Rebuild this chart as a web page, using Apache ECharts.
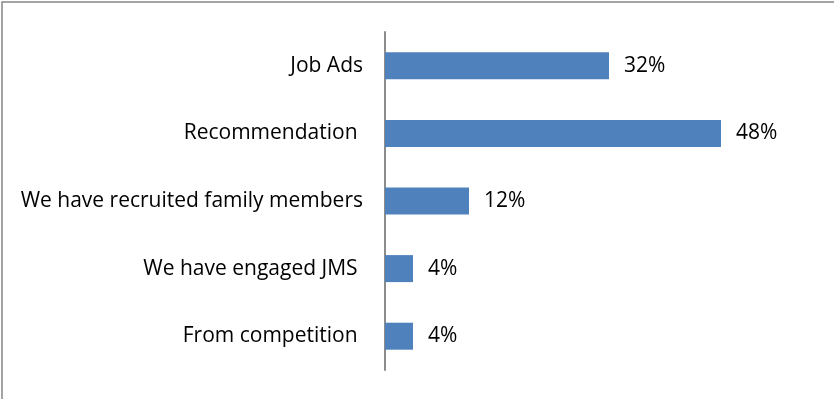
<!DOCTYPE html>
<html>
<head>
<meta charset="utf-8">
<script src="https://cdn.jsdelivr.net/npm/echarts@6/dist/echarts.min.js"></script>
<style>
  html, body { margin: 0; padding: 0; background: #fff; }
  #chart { width: 834px; height: 399px; }
</style>
</head>
<body>
<div id="chart"></div>
<script>
// Recruitment channels, top to bottom
const categories = [
  'Job Ads',
  'Recommendation ',
  'We have recruited family members',
  'We have engaged JMS ',
  'From competition '
];
const shares = [32, 48, 12, 4, 4];

const FONT = '"Open Sans", "Noto Sans", sans-serif';

const chart = echarts.init(document.getElementById('chart'), null, { renderer: 'canvas' });

chart.setOption({
  animation: false,
  backgroundColor: '#ffffff',
  graphic: [{
    type: 'rect',
    shape: { x: 2, y: 2, width: 900, height: 500 },
    style: { fill: 'none', stroke: '#868686', lineWidth: 1.5 },
    silent: true
  }],
  grid: { left: 385, top: 32, height: 338, right: 99 },
  xAxis: {
    type: 'value',
    min: 0,
    max: 50,
    show: false
  },
  yAxis: {
    type: 'category',
    data: categories,
    inverse: true,
    axisLine: { show: true, lineStyle: { color: '#8c8c8c', width: 2 } },
    axisTick: { show: false },
    axisLabel: {
      margin: 22,
      color: '#000000',
      fontFamily: FONT,
      fontSize: 21
    }
  },
  series: [{
    type: 'bar',
    data: shares,
    barWidth: 27,
    itemStyle: { color: '#4f81bd' },
    label: {
      show: true,
      position: 'right',
      distance: 15,
      formatter: '{c}%',
      color: '#000000',
      fontFamily: FONT,
      fontSize: 21
    }
  }]
});
</script>
</body>
</html>
